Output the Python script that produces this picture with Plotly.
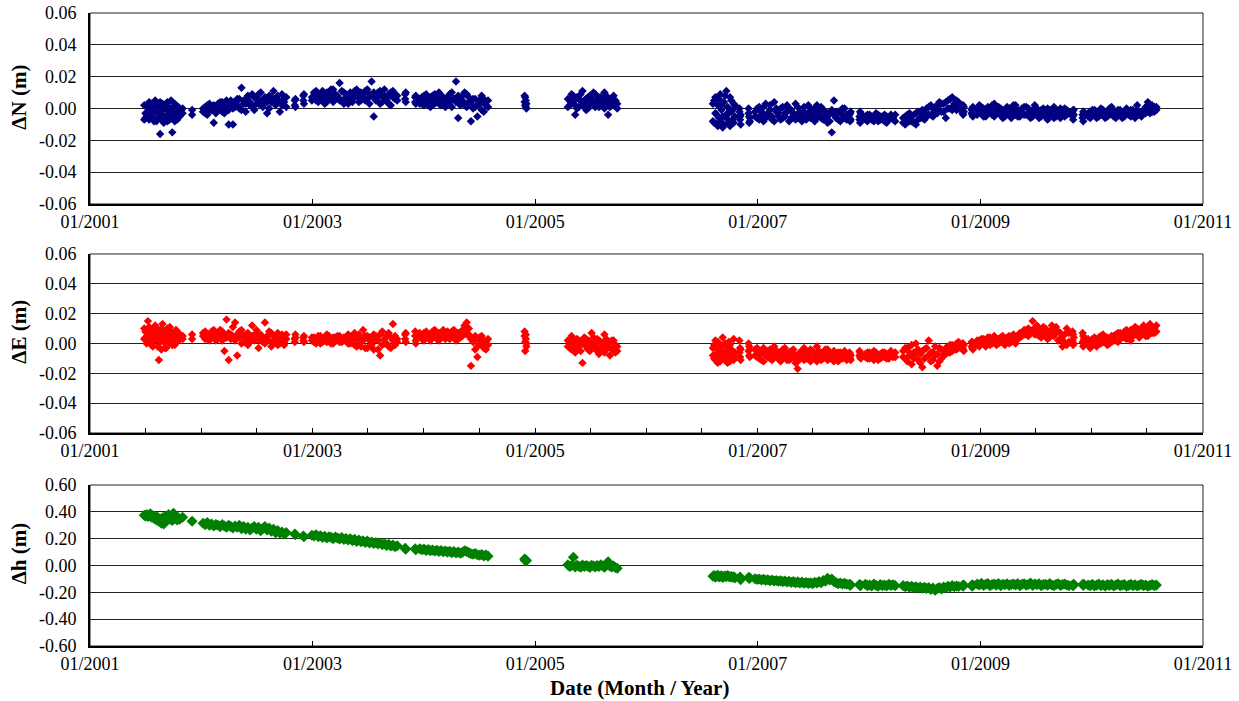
import pandas as pd
import plotly.graph_objects as go

# ---------------- data ----------------
# observation epochs, in days since 01/01/2001
days = [
    178,182,186,190,194,198,202,206,210,214,218,222,226,230,234,238,242,246,250,254,258,262,266,270,274,278,282,286,290,294,304,335,
    371,378,385,392,399,406,413,420,427,434,441,448,455,462,469,476,483,490,497,504,511,518,525,532,539,546,553,560,567,574,581,588,595,602,609,616,623,630,637,644,
    672,674,700,702,
    728,735,742,749,756,763,770,777,784,791,798,805,812,819,826,833,840,847,854,861,868,875,882,889,896,903,910,917,924,931,938,945,952,959,966,973,980,987,994,1001,1008,
    1034,1036,1067,1069,
    1082,1089,1096,1103,1110,1117,1124,1131,1138,1145,1152,1159,1166,1173,1180,1187,1194,1201,1208,1215,1222,1229,1236,1243,1250,1257,1264,1271,1278,1285,1292,1299,1306,
    1426,1428,1430,1432,
    1568,1574,1580,1586,1592,1598,1604,1610,1616,1622,1628,1634,1640,1646,1652,1658,1664,1670,1676,1682,1688,1694,1700,1706,1712,1718,1724,1730,
    2044,2048,2052,2056,2060,2064,2068,2072,2076,2080,2084,2088,2092,2096,2100,2104,2108,2112,2116,
    2131,2133,2135,2161,2163,2165,
    2182,2189,2196,2203,2210,2217,2224,2231,2238,2245,2252,2259,2266,2273,2280,2287,2294,2301,2308,2315,2322,2329,2336,2343,2350,2357,2364,2371,2378,2385,2392,2399,2406,2413,2420,2427,2434,2441,2448,2455,2462,2469,2476,2483,
    2492,2494,2496,2525,2527,2529,
    2544,2551,2558,2565,2572,2579,2586,2593,2600,2607,2614,2621,2628,2635,2642,
    2668,2675,2682,2689,2696,2703,2710,2717,2724,2731,2738,2745,2752,2759,2766,2773,2780,2787,2794,2801,2808,2815,2822,2829,2836,2843,2850,
    2863,2865,2867,2893,2895,2897,
    2911,2918,2925,2932,2939,2946,2953,2960,2967,2974,2981,2988,2995,3002,3009,3016,3023,3030,3037,3044,3051,3058,3065,3072,3079,3086,3093,3100,3107,3114,3121,3128,3135,3142,3149,3156,3163,3170,3177,3184,3191,3198,3205,3212,
    3224,3226,3228,3257,3259,3261,
    3275,3282,3289,3296,3303,3310,3317,3324,3331,3338,3345,3352,3359,3366,3373,3380,3387,3394,3401,3408,3415,3422,3429,3436,3443,3450,3457,3464,3471,3478,3485,3492,3499,
]

# North residuals (mm), first daily solution
dN_mm = [
    -7,-3,1,-5,4,-2,3,-6,-1,5,-8,-3,2,-16,-4,3,-9,0,-5,4,-2,-7,5,-15,1,-8,2,-2,-3,0,-3,-1,
    0,-3,2,-1,1,-9,-2,3,0,4,-3,2,-10,5,-10,1,6,0,13,3,-2,7,2,9,-1,6,3,10,1,7,-3,8,4,11,2,6,-2,9,4,7,
    5,1,8,3,
    7,10,5,9,6,11,8,4,9,7,12,6,8,16,5,10,7,3,9,6,11,8,4,10,7,5,12,9,17,-5,6,10,3,8,12,5,9,2,11,6,8,
    9,4,7,3,
    6,3,8,5,2,7,4,9,6,3,8,5,1,7,4,10,6,17,-6,5,8,2,9,4,-8,6,1,-5,3,8,-2,4,1,
    8,2,5,0,
    6,2,9,4,-4,7,1,5,11,3,6,0,8,4,2,9,5,1,7,3,10,5,-4,6,2,8,4,0,
    -8,5,-3,-10,2,-6,9,-1,-12,4,-5,11,-3,-9,7,-2,-7,3,-5,
    0,-7,-4,-3,-9,-6,
    -2,-6,1,-4,-8,3,-3,-1,-7,4,-2,-5,0,-6,-3,2,-8,-1,-4,3,-6,-2,-5,1,-7,-3,0,-4,-8,2,-2,-6,-1,-4,-9,-3,-15,5,-6,-2,-8,-4,0,-7,
    -4,-8,-2,-5,-9,-3,
    -5,-8,-4,-7,-6,-3,-8,-5,-7,-4,-9,-6,-5,-7,-4,
    -9,-5,-7,-3,-8,-4,-10,-2,-6,-1,-7,0,-4,2,-5,1,-3,4,-2,3,-6,5,0,7,2,-1,4,
    -1,-4,1,-3,0,-5,
    -1,2,-3,0,-5,1,-2,-4,3,-1,-3,0,-6,-2,1,-4,-1,-3,2,-5,-2,0,-4,1,-3,-6,-1,2,-4,-2,-5,0,-3,-7,-1,-4,1,-5,-2,-6,-3,0,-4,-2,
    -3,-7,-1,-4,-8,-2,
    -3,-6,-1,-4,-2,-5,0,-3,-6,-2,-4,1,-5,-3,-1,-4,-6,-2,0,-3,-5,-1,-4,2,-2,-5,-1,-3,4,0,-2,1,-1,
]

# North residuals (mm), second daily solution
dN2_mm = [
    2,-6,-4,1,-7,3,-5,0,-8,-2,1,-6,-3,4,-7,-1,2,-5,3,-8,1,-4,-2,0,-6,3,-4,-7,1,-5,0,-4,
    -2,1,-4,3,-1,2,-3,0,4,-2,1,5,-1,3,0,4,2,6,-1,5,3,8,4,1,7,3,9,5,2,6,4,0,7,5,3,8,4,2,6,1,
    2,6,5,9,
    5,8,11,4,9,6,3,10,6,12,4,9,7,5,11,3,9,6,10,4,7,12,8,5,9,11,6,3,8,10,5,7,11,4,8,6,3,10,7,9,5,
    6,10,4,8,
    3,7,2,9,5,1,8,3,6,10,2,7,5,3,9,1,6,4,8,2,5,10,1,7,3,0,6,2,5,-1,6,2,5,
    4,7,1,3,
    1,5,3,8,2,0,6,9,2,5,-1,7,3,6,10,1,4,7,2,5,0,8,3,1,6,2,5,3,
    3,-9,7,-4,-11,6,-8,2,-5,-10,8,-6,1,-3,-11,5,-1,-9,2,
    -2,-5,-10,0,-5,-8,
    -5,0,-7,-2,1,-6,-4,2,-5,-8,0,-3,-7,1,-5,-2,0,-6,-3,-7,1,-4,-8,-2,-5,2,-6,-3,0,-6,-4,1,-7,-2,-5,-8,-1,-4,-2,-7,-3,0,-6,-4,
    -6,-3,-7,-7,-2,-6,
    -7,-4,-6,-5,-8,-6,-4,-7,-5,-8,-5,-7,-4,-6,-8,
    -6,-10,-4,-8,-5,-9,-3,-7,-2,-6,-3,-5,1,-4,0,-3,2,-1,3,-2,4,0,6,-1,3,5,0,
    -3,2,-2,-1,-4,1,
    -4,-1,1,-5,-2,-3,0,2,-5,-3,1,-4,-1,-5,-3,0,-6,2,-4,-1,-5,-3,1,-4,0,-2,-5,-3,0,-6,-1,-3,-5,0,-4,-2,-6,-1,-4,0,-2,-5,-1,-3,
    -5,-1,-4,-6,-2,-5,
    -5,-2,-4,-1,-6,-3,-4,-1,-3,-5,0,-3,-2,-6,-4,-1,-3,-5,-2,-4,-1,-3,-6,-1,-4,-2,-3,1,-1,-3,2,-2,1,
]

# East residuals (mm), first daily solution
dE_mm = [
    10,4,7,15,5,2,8,-2,6,12,3,9,-11,4,-4,13,1,7,-3,10,5,0,8,-1,6,3,9,4,7,3,5,3,
    5,8,3,6,4,9,2,7,5,8,-5,16,-11,6,11,14,-8,4,9,1,6,-1,4,12,2,7,-3,5,1,14,3,8,-2,5,2,7,0,4,-1,6,
    3,6,4,1,
    2,4,0,3,5,1,2,6,3,0,4,2,5,1,3,4,2,6,0,3,7,-2,4,1,9,-3,5,2,-1,6,3,-4,-8,8,0,5,-2,4,13,-1,3,
    6,1,8,2,
    5,3,7,4,6,2,8,5,3,7,4,9,5,6,3,8,5,2,7,4,9,12,14,6,-15,3,-4,-9,2,5,-3,1,-1,
    8,-5,3,0,
    2,-3,5,0,-6,3,-2,1,-13,4,-1,2,-5,7,0,-3,3,-7,1,-2,6,-4,0,-8,2,-3,-1,-5,
    -3,-10,2,-7,-13,0,-5,-9,4,-6,-11,-2,-8,1,-12,-4,-7,3,-9,
    2,-9,-4,0,-8,-4,
    -4,-9,-6,-11,-3,-8,-5,-10,-7,-2,-9,-6,-12,-4,-8,-7,-11,-5,-9,-13,-17,-6,-8,-3,-10,-7,-12,-5,-9,-2,-8,-11,-6,-9,-4,-10,-7,-12,-8,-6,-10,-7,-9,-8,
    -6,-10,-8,-5,-9,-7,
    -7,-10,-6,-9,-5,-8,-11,-7,-9,-6,-10,-8,-7,-9,-6,
    -5,-10,-3,-8,-14,-6,0,-11,-7,-16,-4,-9,2,-12,-6,-8,-15,-3,-10,-5,-7,-2,-6,-1,-4,0,-3,
    -3,0,-5,-2,1,-4,
    -1,2,0,3,-2,1,4,0,2,-1,3,1,5,2,4,0,3,6,2,5,4,7,6,9,5,8,15,10,6,9,4,11,7,3,8,12,5,9,2,7,-2,6,10,1,
    8,-1,4,7,-2,3,
    0,-3,3,1,-2,4,0,6,2,-1,3,1,5,2,7,3,6,4,9,5,2,8,6,10,4,7,11,5,9,13,7,10,8,
]

# East residuals (mm), second daily solution
dE2_mm = [
    3,8,0,6,11,4,-1,9,2,7,5,-2,8,1,10,5,3,-3,9,2,7,11,1,6,4,-1,5,8,2,6,3,6,
    7,3,6,2,8,4,6,3,9,2,6,4,7,3,5,2,6,8,0,5,3,7,1,5,4,9,2,6,3,0,5,2,7,1,4,-1,3,6,1,3,
    1,4,2,5,
    4,1,3,5,0,3,4,1,5,2,0,4,2,5,1,2,4,0,3,5,-1,3,6,-2,2,5,-3,4,1,-4,5,2,6,-1,3,0,7,-3,2,5,1,
    3,7,5,0,
    7,4,2,8,5,3,6,9,4,2,7,5,3,8,6,4,9,5,3,7,5,8,6,10,3,1,5,-2,4,0,2,-4,3,
    5,1,6,-2,
    -2,1,-4,3,0,-3,2,-5,1,-1,3,-4,1,-2,4,-1,-5,2,-3,0,-6,3,-2,1,-4,2,-6,-2,
    -8,-1,-11,-4,1,-9,-12,-2,-7,-10,0,-6,-13,-4,-1,-10,-5,-11,-6,
    -6,-3,-11,-5,-2,-9,
    -8,-3,-10,-6,-12,-5,-9,-4,-11,-8,-5,-10,-7,-9,-3,-11,-6,-10,-4,-8,-12,-9,-5,-11,-6,-9,-4,-10,-7,-12,-5,-7,-10,-4,-11,-7,-9,-5,-10,-12,-6,-10,-5,-11,
    -9,-7,-11,-8,-6,-10,
    -9,-6,-10,-7,-11,-6,-8,-10,-6,-9,-7,-10,-5,-8,-9,
    -9,-3,-12,-6,-1,-10,-7,-4,-13,-5,-10,-3,-8,-6,-11,-2,-7,-12,-4,-8,-3,-6,-1,-5,-2,-4,1,
    0,-4,-1,1,-3,-1,
    2,-2,3,0,1,4,-1,2,5,1,0,4,2,-1,3,5,1,4,0,3,7,5,9,6,10,7,9,6,12,5,8,6,10,7,4,9,6,11,8,3,5,1,-1,7,
    2,6,0,1,5,-1,
    3,1,-1,4,2,0,5,1,3,4,0,5,2,6,1,7,4,8,3,6,9,5,11,7,9,6,12,8,5,10,11,7,12,
]

# Height residuals (mm)
dh_mm = [
    375,370,380,365,372,385,360,370,350,365,340,360,330,345,315,355,310,365,335,350,380,345,360,335,390,350,360,340,355,345,360,330,
    315,305,320,300,310,295,305,300,290,305,295,285,300,290,280,295,285,300,275,290,270,285,265,280,290,270,285,260,275,290,265,280,255,270,245,260,240,250,235,245,
    235,230,220,215,
    225,220,230,215,222,210,218,205,215,210,200,212,205,198,208,195,202,190,200,185,195,180,190,178,185,172,182,168,175,165,172,160,168,155,162,150,158,145,152,140,148,
    128,122,125,118,
    125,118,122,112,120,110,116,108,114,104,112,102,108,100,106,96,104,94,100,92,98,110,105,96,88,84,90,80,76,82,72,78,70,
    48,38,42,35,
    5,-8,0,62,-10,2,-5,-12,3,-8,0,-6,-14,2,-4,-10,0,-7,5,-3,-12,0,28,-6,-10,-4,-15,-20,
    -80,-75,-88,-78,-72,-85,-80,-76,-90,-82,-78,-84,-75,-80,-86,-82,-88,-84,-92,
    -95,-85,-105,-90,-96,-92,
    -98,-104,-100,-108,-103,-110,-106,-113,-108,-116,-111,-118,-113,-120,-116,-123,-118,-126,-120,-128,-122,-130,-124,-132,-126,-133,-128,-135,-125,-130,-120,-128,-112,-118,-95,-108,-100,-120,-128,-135,-130,-138,-133,-140,
    -140,-148,-144,-142,-150,-146,
    -140,-150,-145,-152,-138,-148,-155,-142,-150,-146,-153,-140,-148,-144,-150,
    -150,-158,-152,-162,-155,-165,-158,-168,-160,-170,-162,-172,-165,-178,-168,-185,-172,-165,-175,-160,-168,-155,-162,-150,-158,-152,-156,
    -150,-155,-145,-148,-154,-145,
    -138,-145,-132,-148,-140,-135,-150,-142,-138,-146,-134,-150,-140,-144,-136,-148,-142,-138,-145,-135,-150,-140,-136,-146,-142,-130,-148,-138,-144,-136,-150,-142,-140,-147,-135,-145,-150,-140,-136,-148,-142,-138,-145,-150,
    -145,-150,-140,-142,-148,-140,
    -145,-150,-140,-152,-146,-138,-150,-144,-155,-142,-148,-140,-152,-145,-138,-150,-146,-142,-155,-148,-140,-150,-144,-152,-146,-140,-150,-145,-155,-148,-142,-150,-146,
]

year_ticks = ["2001-01-01", "2003-01-01", "2005-01-01", "2007-01-01", "2009-01-01", "2011-01-01"]
year_labels = ["01/2001", "01/2003", "01/2005", "01/2007", "01/2009", "01/2011"]
half_year_ticks = ["2001-01-01", "2001-07-01", "2002-01-01", "2002-07-01", "2003-01-01", "2003-07-01",
                   "2004-01-01", "2004-07-01", "2005-01-01", "2005-07-01", "2006-01-01", "2006-07-01",
                   "2007-01-01", "2007-07-01", "2008-01-01", "2008-07-01", "2009-01-01", "2009-07-01",
                   "2010-01-01", "2010-07-01", "2011-01-01"]
half_year_labels = [year_labels[year_ticks.index(t)] if t in year_ticks else "" for t in half_year_ticks]

ne_ticks = [-0.06, -0.04, -0.02, 0.0, 0.02, 0.04, 0.06]
h_ticks = [-0.6, -0.4, -0.2, 0.0, 0.2, 0.4, 0.6]

n = len(days)
assert all(len(a) == n for a in (dN_mm, dN2_mm, dE_mm, dE2_mm, dh_mm)), \
    (n, len(dN_mm), len(dN2_mm), len(dE_mm), len(dE2_mm), len(dh_mm))

dates = list(pd.Timestamp("2001-01-01") + pd.to_timedelta(days, unit="D"))
dN = [v / 1000 for v in dN_mm + dN2_mm]
dE = [v / 1000 for v in dE_mm + dE2_mm]
dh = [v / 1000 for v in dh_mm]

# ---------------- figure ----------------
FONT = '"Liberation Serif", "Times New Roman", Times, serif'
fig = go.Figure()
fig.add_trace(go.Scatter(x=dates + dates, y=dN, mode="markers", xaxis="x", yaxis="y",
                         marker=dict(symbol="diamond", size=6.5, color="#000080", line=dict(width=0))))
fig.add_trace(go.Scatter(x=dates + dates, y=dE, mode="markers", xaxis="x2", yaxis="y2",
                         marker=dict(symbol="diamond", size=6.5, color="#FF0000", line=dict(width=0))))
fig.add_trace(go.Scatter(x=dates, y=dh, mode="markers", xaxis="x3", yaxis="y3",
                         marker=dict(symbol="diamond", size=8.5, color="#008000", line=dict(width=0))))

doms = {"": [0.6983, 1.0], "2": [0.3365, 0.6193], "3": [0.0, 0.2543]}

def xaxis_cfg(anchor, tv, tt):
    return dict(domain=[0, 1], anchor=anchor, type="date", automargin=False,
                range=["2001-01-01", "2011-01-01"],
                tickmode="array", tickvals=tv, ticktext=tt,
                ticks="inside", ticklen=5, tickwidth=1, tickcolor="black",
                showline=True, linecolor="black", linewidth=2,
                showgrid=False, zeroline=False,
                tickfont=dict(family=FONT, size=18, color="black"))

def yaxis_cfg(anchor, dom, tv, fmt):
    return dict(domain=dom, anchor=anchor, range=[tv[0], tv[-1]], automargin=False,
                tickmode="array", tickvals=tv, ticktext=[fmt.format(v) for v in tv],
                ticks="", ticklabelstandoff=8,
                showline=True, linecolor="black", linewidth=2,
                showgrid=True, gridcolor="#222222", gridwidth=1, zeroline=False,
                tickfont=dict(family=FONT, size=18, color="black"))

fig.update_layout(
    xaxis=xaxis_cfg("y", year_ticks, year_labels),
    xaxis2=xaxis_cfg("y2", half_year_ticks, half_year_labels),
    xaxis3=xaxis_cfg("y3", year_ticks, year_labels),
    yaxis=yaxis_cfg("x", doms[""], ne_ticks, "{:.2f}"),
    yaxis2=yaxis_cfg("x2", doms["2"], ne_ticks, "{:.2f}"),
    yaxis3=yaxis_cfg("x3", doms["3"], h_ticks, "{:.2f}"),
    width=1239, height=701,
    margin=dict(l=90, r=36, t=13, b=55, pad=0),
    paper_bgcolor="white", plot_bgcolor="white",
    showlegend=False,
    font=dict(family=FONT, color="black"),
)

# thin frame around each plot area
for ax in ["", "2", "3"]:
    fig.add_shape(type="rect", xref=f"x{ax} domain", yref=f"y{ax} domain",
                  x0=0, x1=1, y0=0, y1=1, line=dict(color="#222222", width=1),
                  fillcolor="rgba(0,0,0,0)", layer="below")

# axis titles
for txt, yp in [("ΔN (m)", 0.8678), ("ΔE (m)", 0.4965), ("Δh (m)", 0.1464)]:
    fig.add_annotation(text=f"<b>{txt}</b>", xref="paper", yref="paper", x=-0.0638, y=yp,
                       textangle=-90, showarrow=False, xanchor="center", yanchor="middle",
                       font=dict(family=FONT, size=21, color="black"))
fig.add_annotation(text="<b>Date (Month / Year)</b>", xref="paper", yref="paper",
                   x=0.4933, y=-0.0664, showarrow=False, xanchor="center", yanchor="middle",
                   font=dict(family=FONT, size=21, color="black"))

fig.write_html("out.html", config={"displayModeBar": False},
               post_script="document.body.style.margin='0';document.body.style.overflow='hidden';")
